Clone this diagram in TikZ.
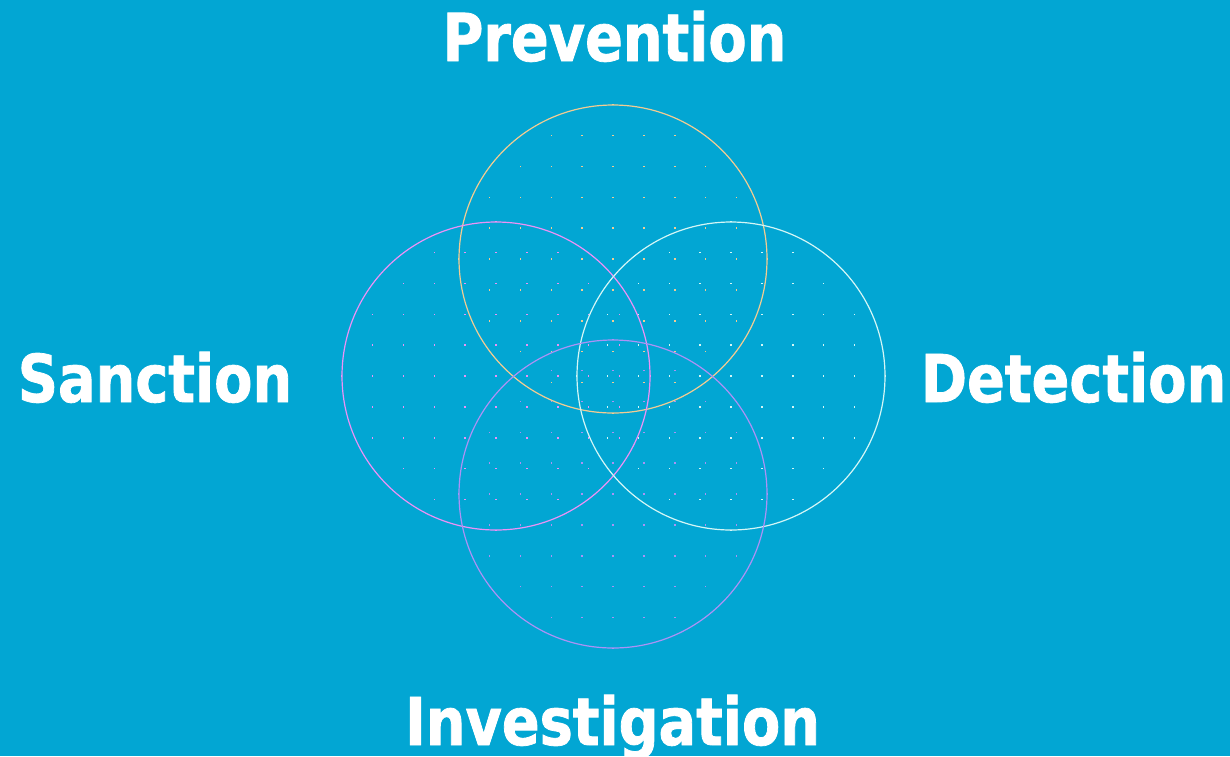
\documentclass[tikz,border=0pt]{standalone}
\usepackage{fontspec}
\newfontfamily\labelfont[FakeStretch=0.845,FakeBold=1.2]{DejaVu Sans Bold}
\definecolor{bg}{HTML}{02A6D3}
\definecolor{cPrev}{HTML}{F2CC92}
\definecolor{cSanc}{HTML}{EC92F6}
\definecolor{cDet}{HTML}{D4F6F6}
\definecolor{cInv}{HTML}{AC92F6}
\begin{document}
\begin{tikzpicture}[x=1pt,y=-1pt,
  ring/.style={circle,draw=#1,line width=1.2pt,minimum size=308pt,inner sep=0pt},
  word/.style={text=white,font=\labelfont\fontsize{66}{66}\selectfont,anchor=base,inner sep=0pt}]
  \fill[bg] (0,0) rectangle (1230,756);
  \useasboundingbox (0,0) rectangle (1230,756);
  % dot grids inside each ring
  \foreach \cx/\cy/\col in {613/259/cPrev,496/376/cSanc,731/376/cDet,613/494/cInv}{
    \foreach \i in {-5,...,5}{
      \foreach \j in {-5,...,5}{
        \pgfmathtruncatemacro\dd{\i*\i+\j*\j}
        \ifnum\dd<26
          \fill[\col] ({\cx+\i*30.9-0.7},{\cy+\j*30.9-0.7}) rectangle ++(1.4,1.4);
        \fi
      }
    }
  }
  \node[ring=cPrev] (prev) at (613,259) {};
  \node[ring=cSanc] (sanc) at (496,376) {};
  \node[ring=cDet]  (det)  at (731,376) {};
  \node[ring=cInv]  (inv)  at (613,494) {};
  \node[word] (tPrev) at (614.5,61) {Prevention};
  \node[word] (tSanc) at (155,402) {Sanction};
  \node[word] (tDet)  at (1073.5,402) {Detection};
  \node[word] (tInv)  at (612.5,745) {Investigation};
\end{tikzpicture}
\end{document}
